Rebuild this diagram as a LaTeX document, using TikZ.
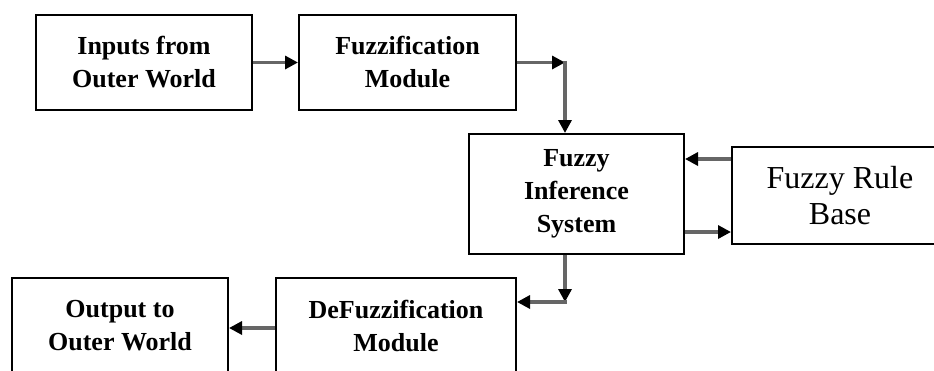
\documentclass[tikz,border=0pt]{standalone}
\usepackage{fontspec}
\setmainfont{Liberation Serif}
\usetikzlibrary{arrows.meta}
\begin{document}
\begin{tikzpicture}[x=1pt,y=-1pt,
  box/.style={draw=black, line width=2pt, inner sep=0pt, align=center,
    font=\fontsize{26}{33}\selectfont\bfseries},
  conn/.style={draw=black!60, line width=3.2pt,
    -{Triangle[length=13pt,width=13pt,color=black]}}]
\useasboundingbox (0,0) rectangle (934,370);
\clip (0,0) rectangle (934,370);
\fill[white] (0,0) rectangle (934,370);
\node[box, minimum width=216pt, minimum height=95pt] (in) at (144,62.5) {Inputs from\\Outer World};
\node[box, minimum width=217pt, minimum height=95pt] (fuzz) at (407.5,62.5) {Fuzzification\\Module};
\node[box, minimum width=215pt, minimum height=120pt] (fis) at (576.5,194) {Fuzzy\\Inference\\System};
\node[box, minimum width=216pt, minimum height=97pt, font=\fontsize{32}{36}\selectfont] (rule) at (840,195.5) {Fuzzy Rule\\Base};
\node[box, minimum width=216pt, minimum height=95pt] (out) at (120,325.5) {Output to\\Outer World};
\node[box, minimum width=240pt, minimum height=95pt] (de) at (396,325.5) {DeFuzzification\\Module};
\coordinate (c1) at (565,62.5);
\coordinate (c2) at (565,302);
\coordinate (r1) at (700,159);
\coordinate (r2) at (700,232);
\coordinate (c3) at (250,328);
\draw[conn] (in.east) -- (fuzz.west);
\draw[conn] (fuzz.east) -- (c1);
\draw[conn, shorten <=-1.6pt] (c1) -- (c1 |- fis.north);
\draw[conn] (r1 -| rule.west) -- (r1 -| fis.east);
\draw[conn] (r2 -| fis.east) -- (r2 -| rule.west);
\draw[conn] (c2 |- fis.south) -- (c2);
\draw[conn, shorten <=-1.6pt] (c2) -- (c2 -| de.east);
\draw[conn] (c3 -| de.west) -- (c3 -| out.east);
\end{tikzpicture}
\end{document}
